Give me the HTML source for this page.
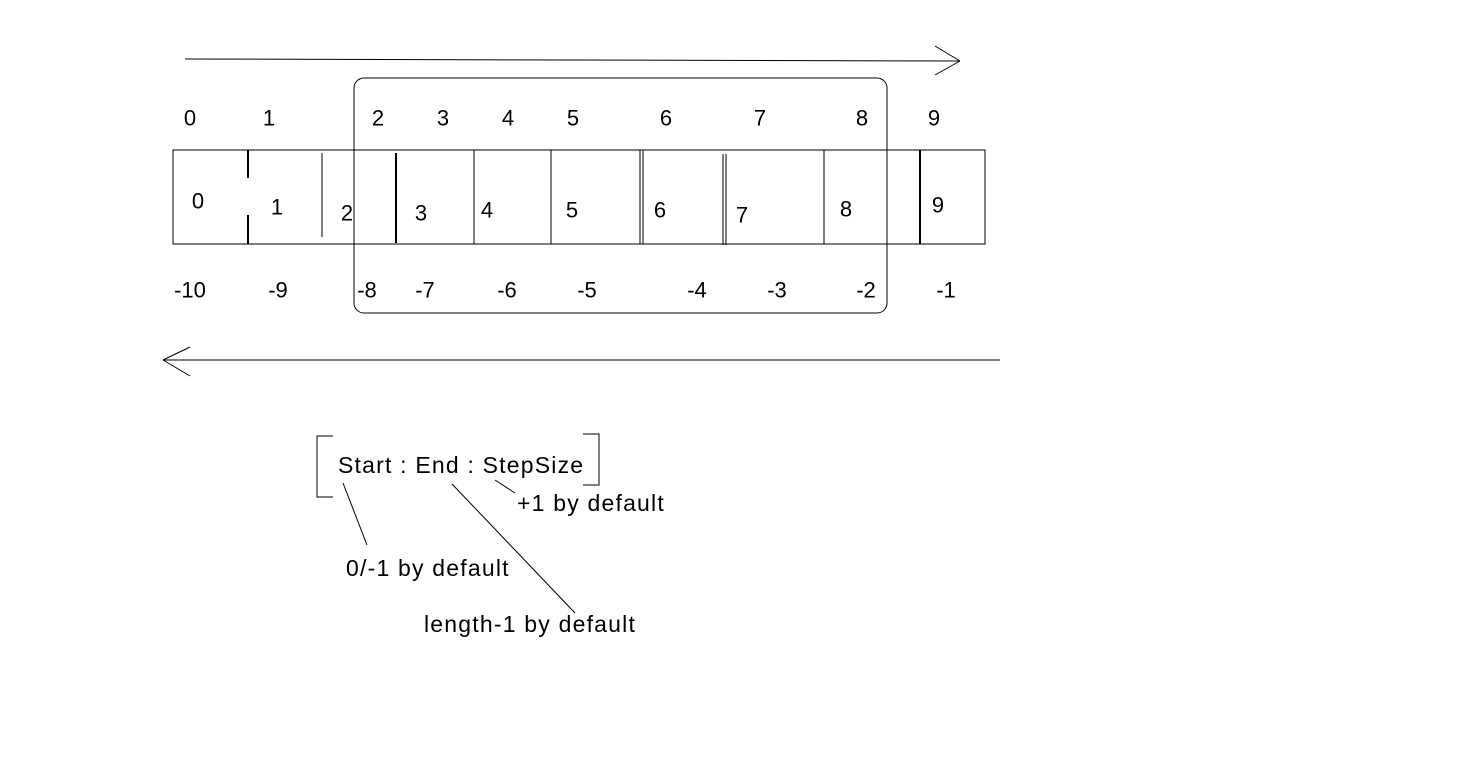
<!DOCTYPE html>
<html><head><meta charset="utf-8"><style>
html,body{margin:0;padding:0;background:#fff;width:1483px;height:782px;overflow:hidden}
svg text{font-family:"Liberation Sans",Arial,sans-serif;font-size:22px;fill:#000}
svg text.ph{font-size:23px;letter-spacing:1.2px}
</style></head><body>
<svg width="1483" height="782" stroke="#000" fill="none" stroke-width="1">
<g>
<line x1="185" y1="59" x2="960" y2="61"/><line x1="935" y1="46" x2="960" y2="61"/><line x1="935" y1="75" x2="960" y2="61"/>
</g>
<rect x="354" y="78" width="533" height="235" rx="10"/>
<g>
<rect x="173" y="150" width="812" height="94"/>
<line x1="248" y1="150" x2="248" y2="178" stroke-width="2"/><line x1="248" y1="215" x2="248" y2="244" stroke-width="2"/>
<line x1="322" y1="153" x2="322" y2="237"/>
<line x1="396" y1="153" x2="396" y2="243" stroke-width="2"/>
<line x1="474" y1="150" x2="474" y2="244"/>
<line x1="551" y1="150" x2="551" y2="244"/>
<line x1="640" y1="150" x2="640" y2="244"/><line x1="643" y1="150" x2="643" y2="244"/>
<line x1="723" y1="154" x2="723" y2="245"/><line x1="726" y1="154" x2="726" y2="245"/>
<line x1="824" y1="150" x2="824" y2="244"/>
<line x1="920" y1="150" x2="920" y2="244" stroke-width="2"/>
</g>
<g stroke="none" text-anchor="middle" dominant-baseline="central">
<text x="190" y="118">0</text><text x="269" y="118">1</text><text x="378" y="118">2</text><text x="443" y="118">3</text><text x="508" y="118">4</text><text x="573" y="118">5</text><text x="666" y="118">6</text><text x="760" y="118">7</text><text x="862" y="118">8</text><text x="934" y="118">9</text>
</g>
<g stroke="none" text-anchor="middle" dominant-baseline="central">
<text x="198" y="201">0</text><text x="277" y="207">1</text><text x="347" y="213">2</text><text x="421" y="213">3</text><text x="487" y="210">4</text><text x="572" y="210">5</text><text x="660" y="210">6</text><text x="742" y="215">7</text><text x="846" y="209">8</text><text x="938" y="205">9</text>
</g>
<g stroke="none" text-anchor="middle" dominant-baseline="central">
<text x="190" y="290">-10</text><text x="278" y="290">-9</text><text x="367" y="290">-8</text><text x="425" y="290">-7</text><text x="507" y="290">-6</text><text x="587" y="290">-5</text><text x="697" y="290">-4</text><text x="777" y="290">-3</text><text x="866" y="290">-2</text><text x="946" y="290">-1</text>
</g>
<g>
<line x1="163" y1="360" x2="1000" y2="360"/><line x1="190" y1="347" x2="163" y2="360"/><line x1="190" y1="376" x2="163" y2="360"/>
</g>
<g>
<polyline points="333,436 317,436 317,497 333,497"/>
<polyline points="583,434 599,434 599,485 583,485"/>
</g>
<text class="ph" x="338" y="473" stroke="none">Start : End : StepSize</text>
<line x1="495" y1="480" x2="515" y2="493"/>
<text class="ph" x="517" y="511" stroke="none">+1 by default</text>
<line x1="343" y1="483" x2="367" y2="545"/>
<text class="ph" x="346" y="576" stroke="none">0/-1 by default</text>
<line x1="452" y1="484" x2="575" y2="613"/>
<text class="ph" x="424" y="632" stroke="none">length-1 by default</text>
</svg>
</body></html>
